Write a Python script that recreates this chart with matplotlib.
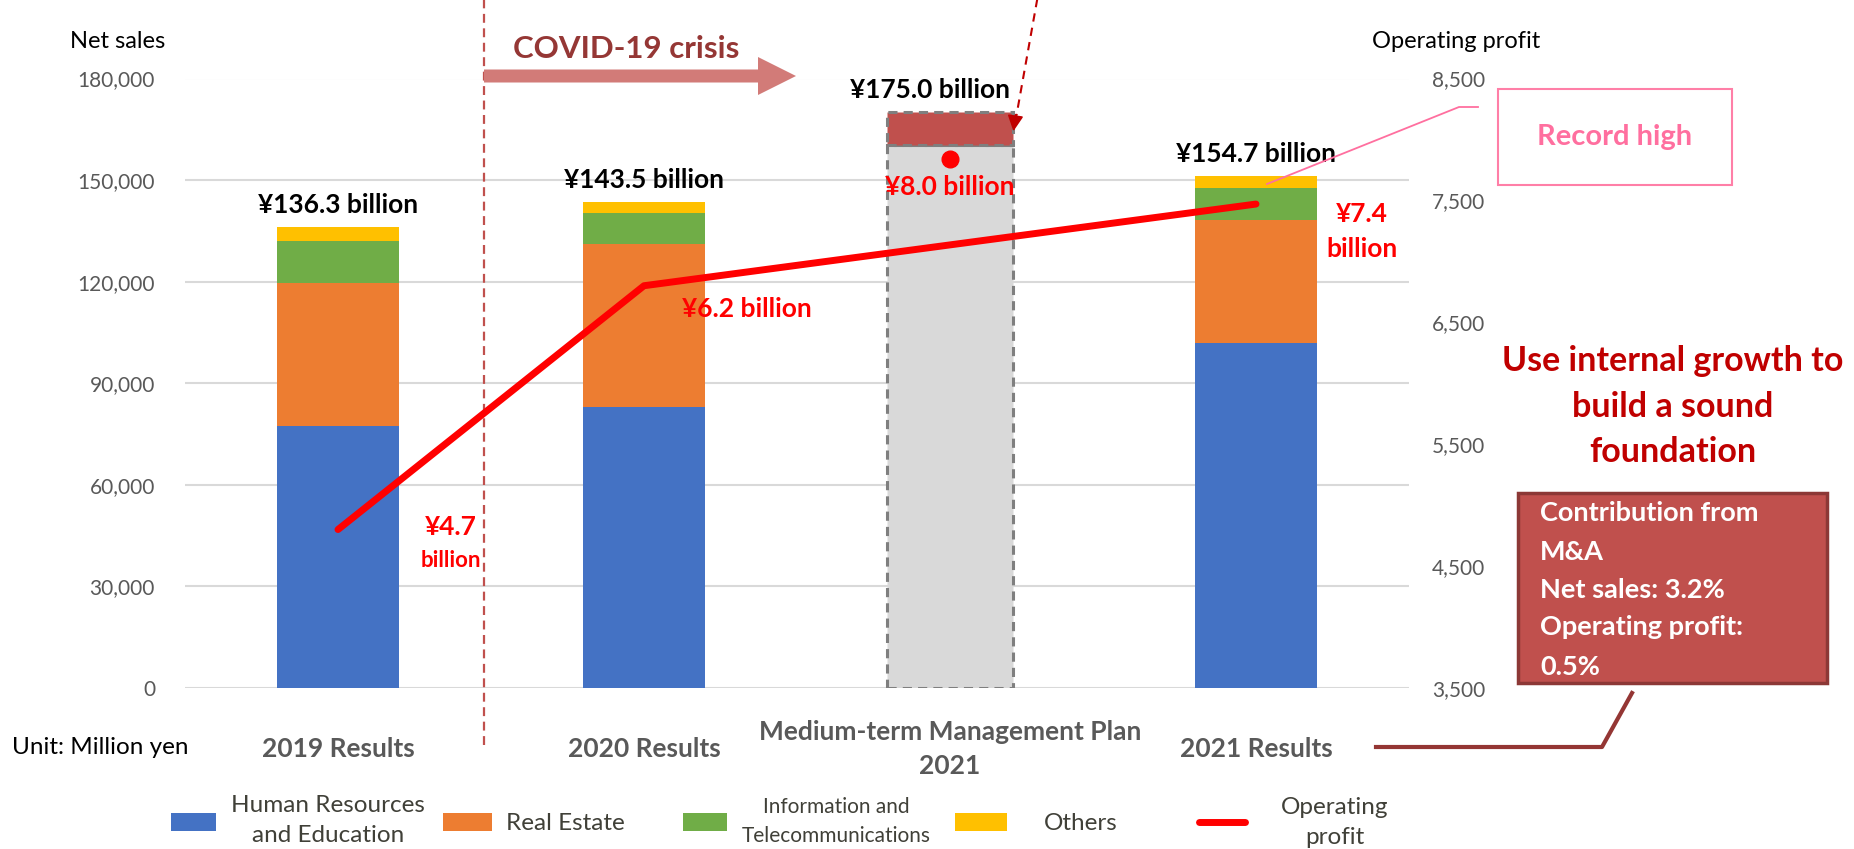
import numpy as np
import matplotlib.pyplot as plt
from matplotlib.patches import FancyArrow, FancyArrowPatch, Rectangle
from matplotlib.lines import Line2D
from matplotlib.transforms import Affine2D

plt.rcParams['font.family'] = ['Lato', 'DejaVu Sans']

W, H = 1854, 849

# Datos (millones de yenes)
categories = ["2019 Results", "2020 Results", "Medium-term Management Plan\n2021", "2021 Results"]
hr_education = [77500, 83000, np.nan, 101800]
real_estate = [42200, 48000, np.nan, 36500]
info_telecom = [12200, 9200, np.nan, 9300]
others = [4200, 3200, np.nan, 3600]
plan_base = 160500
plan_ma = 9500
sales_labels = ["¥136.3 billion", "¥143.5 billion", "¥175.0 billion", "¥154.7 billion"]

profit_x = [0, 1, 3]
profit = [4800, 6800, 7470]
plan_profit = 7840

seg_colors = ['#4472C4', '#ED7D31', '#70AD47', '#FFC000']

fig = plt.figure(figsize=(W / 100, H / 100), dpi=100)
px = Affine2D().scale(1, -1).translate(0, H)  # pixeles, origen arriba a la izquierda

ax = fig.add_axes([185 / W, 1 - 688 / H, (1409 - 185) / W, (688 - 78.5) / H])
x = np.arange(len(categories))

# Barras apiladas
bottom = np.zeros(len(categories))
for vals, c in zip([hr_education, real_estate, info_telecom, others], seg_colors):
    ax.bar(x, vals, 0.4, bottom=bottom, color=c, zorder=2)
    bottom += np.nan_to_num(vals)

# Plan a medio plazo
ax.bar(2, plan_base, 0.41, color='#D9D9D9', edgecolor='#7F7F7F',
       linestyle=(0, (3, 2)), linewidth=2.2, zorder=2)
ax.bar(2, plan_ma, 0.41, bottom=plan_base, color='#C0504D', edgecolor='#7F7F7F',
       linestyle=(0, (3, 2)), linewidth=2.2, zorder=2)

ax.set_xlim(-0.5, 3.5)
ax.set_ylim(0, 180000)
ax.set_yticks(range(0, 180001, 30000))
ax.set_yticklabels([f"{v:,}" for v in range(0, 180001, 30000)])
ax.tick_params(axis='y', length=0, pad=21.6, labelsize=15, labelcolor='#595959')
ax.set_xticks(x)
ax.set_xticklabels(categories, fontweight='bold', color='#595959', fontsize=19,
                   va='center', linespacing=1.5)
ax.tick_params(axis='x', length=0, pad=44)
ax.yaxis.grid(True, color='#D9D9D9', lw=1.5)
ax.set_axisbelow(True)
for s in ax.spines.values():
    s.set_visible(False)

# Etiquetas de ventas
tops = bottom.copy()
tops[2] = plan_base + plan_ma
for i, lab in enumerate(sales_labels):
    ax.annotate(lab, xy=(i, tops[i]), xytext=(-20 if i == 2 else 0, 22),
                textcoords='offset pixels', ha='center', va='center',
                fontweight='bold', fontsize=19, color='black')

# Beneficio operativo
ax2 = ax.twinx()
ax2.plot(profit_x, profit, color='#FF0000', lw=5, solid_capstyle='round', zorder=3)
ax2.plot([2], [plan_profit], 'o', color='#FF0000', ms=12)
ax2.set_ylim(3500, 8500)
ax2.set_yticks(range(3500, 8501, 1000))
ax2.set_yticklabels([f"{v:,}" for v in range(3500, 8501, 1000)])
ax2.tick_params(axis='y', length=0, pad=16.5, labelsize=15, labelcolor='#595959')
for s in ax2.spines.values():
    s.set_visible(False)

red_kw = dict(textcoords='offset pixels', ha='center', va='center',
              fontweight='bold', color='#FF0000')
ax2.annotate("¥4.7", xy=(0, profit[0]), xytext=(113, 3), fontsize=19, **red_kw)
ax2.annotate("billion", xy=(0, profit[0]), xytext=(113, -31), fontsize=16, **red_kw)
ax2.annotate("¥6.2 billion", xy=(1, profit[1]), xytext=(103, -23), fontsize=19, **red_kw)
ax2.annotate("¥7.4", xy=(3, profit[2]), xytext=(106, -10), fontsize=19, **red_kw)
ax2.annotate("billion", xy=(3, profit[2]), xytext=(106, -45), fontsize=19, **red_kw)
ax2.annotate("¥8.0 billion", xy=(2, plan_profit), xytext=(0, -28), fontsize=19, **red_kw)

# Titulos de ejes
fig.text(118, 41, "Net sales", transform=px, ha='center', va='center', fontsize=17)
fig.text(1456, 41, "Operating profit", transform=px, ha='center', va='center', fontsize=17)
fig.text(12, 747, "Unit: Million yen", transform=px, ha='left', va='center', fontsize=17.5)

# COVID-19
ax.axvline(0.477, ymin=-0.094, ymax=1.13, clip_on=False, color='#C0504D',
           lw=1.6, dashes=(4, 2.5), zorder=1)
fig.add_artist(FancyArrow(484, 76, 312, 0, width=13, head_width=38, head_length=38,
                          length_includes_head=True, color='#D27B78', lw=0, transform=px))
fig.text(626, 58, "COVID-19 crisis", transform=px, ha='center', va='baseline',
         fontsize=22.5, fontweight='bold', color='#953735')

# Flecha discontinua superior
fig.add_artist(Line2D([1038, 1016], [-5, 118], transform=px, color='#C00000',
                      lw=1.5, dashes=(4, 3)))
fig.add_artist(FancyArrowPatch((1016, 112), (1013, 134), transform=px, arrowstyle='-|>',
                               mutation_scale=24, color='#C00000', lw=1.2))

# Record high
fig.add_artist(Rectangle((1498, 89), 234, 96, transform=px, facecolor='white',
                         edgecolor='#FF7FA7', lw=1.5))
fig.text(1615, 137, "Record high", transform=px, ha='center', va='center',
         fontsize=21, fontweight='bold', color='#FF6F9F')
fig.add_artist(Line2D([1478, 1459, 1267], [107, 107, 184], transform=px,
                      color='#FF6F9F', lw=1.3))

# Mensaje
for txt, yb in zip(["Use internal growth to", "build a sound", "foundation"], [371, 417, 462]):
    fig.text(1673, yb, txt, transform=px, ha='center', va='baseline',
             fontsize=24.5, fontweight='bold', color='#C00000')

# Caja M&A
fig.add_artist(Rectangle((1518, 493), 309, 190, transform=px, facecolor='#C0504D',
                         edgecolor='#8C3836', lw=2.5))
for txt, yb in zip(["Contribution from", "M&A", "Net sales: 3.2%", "Operating profit:", "0.5%"],
                   [521, 560, 598, 635, 675]):
    fig.text(1540, yb, txt, transform=px, ha='left', va='baseline',
             fontsize=19.5, fontweight='bold', color='white')
fig.add_artist(Line2D([1632, 1602, 1376], [693, 747, 747], transform=px,
                      color='#943634', lw=3))

# Leyenda
leg_color = '#404038'
for (x0, w), c in zip([(171, 45), (443, 49), (683, 44), (955, 52)], seg_colors):
    fig.add_artist(Rectangle((x0, 813), w, 18, transform=px, facecolor=c, lw=0))
fig.add_artist(Line2D([1199, 1245], [822, 822], transform=px, color='#FF0000', lw=5,
                      solid_capstyle='round'))
fig.text(328, 805, "Human Resources", transform=px, ha='center', va='center', fontsize=17.5, color=leg_color)
fig.text(328, 835, "and Education", transform=px, ha='center', va='center', fontsize=17.5, color=leg_color)
fig.text(506, 823, "Real Estate", transform=px, ha='left', va='center', fontsize=17.5, color=leg_color)
fig.text(836, 807, "Information and", transform=px, ha='center', va='center', fontsize=15, color=leg_color)
fig.text(836, 836, "Telecommunications", transform=px, ha='center', va='center', fontsize=15, color=leg_color)
fig.text(1081, 824, "Others", transform=px, ha='center', va='center', fontsize=17.5, color=leg_color)
fig.text(1335, 807, "Operating", transform=px, ha='center', va='center', fontsize=17.5, color=leg_color)
fig.text(1335, 837, "profit", transform=px, ha='center', va='center', fontsize=17.5, color=leg_color)

fig.savefig('out.png', dpi=100)
